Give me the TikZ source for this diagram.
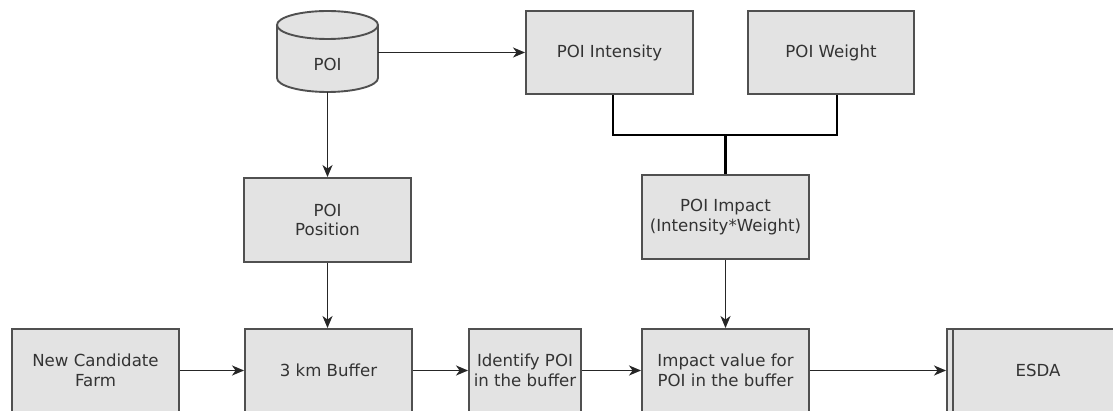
\documentclass[tikz,border=0pt]{standalone}
\usepackage{fontspec}
\setmainfont{DejaVu Sans}
\usetikzlibrary{arrows.meta,calc,positioning}
\definecolor{FlowFill}{HTML}{E3E3E3}
\definecolor{FlowEdge}{HTML}{505050}
\definecolor{FlowText}{HTML}{333333}
\definecolor{FlowLine}{HTML}{262626}
\begin{document}
\begin{tikzpicture}[x=1pt,y=1pt,
    flowbox/.style={draw=FlowEdge,fill=FlowFill,line width=1.9pt,
      minimum height=83pt,inner sep=2pt,align=center,text=FlowText,
      font=\fontsize{16.6}{19.5}\selectfont},
    arr/.style={draw=FlowLine,line width=1.6pt,
      -{Stealth[length=12pt,width=10pt,inset=3.5pt]}},
    joinline/.style={draw=black,line width=2.8pt}]

        \path[use as bounding box,clip] (0,0) rectangle (1113,-411);

        \fill[FlowFill] (277,-25) -- (277,-78)
          arc[start angle=180,end angle=360,x radius=50.5,y radius=14]
          -- (378,-25) -- cycle;
        \fill[FlowFill] (327.5,-25) ellipse[x radius=50.5,y radius=14];
        \draw[FlowEdge,line width=1.9pt] (277,-25) -- (277,-78)
          arc[start angle=180,end angle=360,x radius=50.5,y radius=14]
          -- (378,-25);
        \draw[FlowEdge,line width=1.9pt] (327.5,-25)
          ellipse[x radius=50.5,y radius=14];
        \node[text=FlowText,font=\fontsize{16.6}{19.5}\selectfont]
          (poi) at (327.5,-64) {POI};
        \coordinate (poiside) at (378,-52.5);
        \coordinate (poibase) at (327.5,-92);

        \node[flowbox,minimum width=167pt] (intensity) at (609.5,-52.5) {POI Intensity};
        \node[flowbox,minimum width=166pt] (weight) at (831,-52.5) {POI Weight};
        \node[flowbox,minimum width=167pt,minimum height=84pt]
          (position) at (327.5,-220) {POI\\Position};
        \node[flowbox,minimum width=167pt,minimum height=84pt]
          (impact) at (725.5,-217) {POI Impact\\(Intensity*Weight)};

        \node[flowbox,minimum width=167pt] (farm) at (95.5,-370.5) {New Candidate\\Farm};
        \node[flowbox,minimum width=167pt] (buffer) at (328.5,-370.5) {3 km Buffer};
        \node[flowbox,minimum width=112pt,inner sep=0pt] (identify) at (525,-370.5)
          {Identify POI\\in the buffer};
        \node[flowbox,minimum width=167pt] (impactval) at (725.5,-370.5)
          {Impact value for\\POI in the buffer};
        \node[flowbox,minimum width=175pt] (esda) at (1034.5,-370.5) {};
        \node[text=FlowText,font=\fontsize{16.6}{19.5}\selectfont]
          at (1038,-370.5) {ESDA};
        \draw[FlowEdge,line width=1.9pt]
          ([xshift=7pt]esda.north west) -- ([xshift=7pt]esda.south west);

        \coordinate (join) at (725.5,-135);
        \draw[joinline] ([xshift=3.5pt]intensity.south) |- (join)
          -| ([xshift=6pt]weight.south);
        \draw[joinline] (join) -- (impact.north);

        \draw[arr] (poiside) -- (intensity.west);
        \draw[arr] (poibase) -- (position.north);
        \draw[arr] (position.south) -- (position.south |- buffer.north);
        \draw[arr] (impact.south) -- (impactval.north);
        \draw[arr] (farm.east) -- (buffer.west);
        \draw[arr] (buffer.east) -- (identify.west);
        \draw[arr] (identify.east) -- (impactval.west);
        \draw[arr] (impactval.east) -- (esda.west);

      \end{tikzpicture}
\end{document}
